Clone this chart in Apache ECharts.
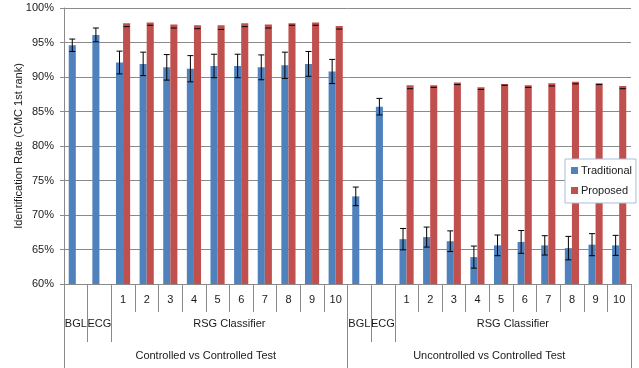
<!DOCTYPE html>
<html>
<head>
<meta charset="utf-8">
<script src="https://cdn.jsdelivr.net/npm/echarts@6/dist/echarts.min.js"></script>
<style>
html,body{margin:0;padding:0;background:#fff;}
#chart{width:639px;height:368px;}
</style>
</head>
<body>
<div id="chart"></div>
<script>
// ---- data ----
const groups = ["Controlled vs Controlled Test", "Uncontrolled vs Controlled Test"];
const methods = ["BGL", "ECG", "RSG Classifier"];
const rsgRuns = ["1", "2", "3", "4", "5", "6", "7", "8", "9", "10"];
const seriesNames = ["Traditional", "Proposed"];
const yTicks = [60, 65, 70, 75, 80, 85, 90, 95, 100];

// Controlled vs Controlled: BGL, ECG, RSG 1..10
const tradControlled = [94.6, 96.1, 92.1, 91.9, 91.4, 91.2, 91.6, 91.6, 91.4, 91.7, 91.9, 90.8];
const tradControlledErr = [0.9, 1.0, 1.65, 1.7, 1.85, 1.9, 1.7, 1.7, 1.8, 1.9, 1.8, 1.75];
const propControlled = [null, null, 97.8, 97.9, 97.6, 97.5, 97.5, 97.8, 97.6, 97.8, 97.9, 97.4];
const propControlledErr = [0, 0, 0.5, 0.4, 0.5, 0.5, 0.6, 0.5, 0.5, 0.3, 0.4, 0.45];

// Uncontrolled vs Controlled: BGL, ECG, RSG 1..10
const tradUncontrolled = [72.7, 85.7, 66.5, 66.8, 66.2, 63.9, 65.6, 66.1, 65.6, 65.2, 65.7, 65.6];
const tradUncontrolledErr = [1.35, 1.2, 1.55, 1.45, 1.5, 1.6, 1.5, 1.65, 1.4, 1.7, 1.6, 1.45];
const propUncontrolled = [null, null, 88.8, 88.8, 89.2, 88.5, 89.0, 88.8, 89.1, 89.3, 89.1, 88.7];
const propUncontrolledErr = [0, 0, 0.5, 0.3, 0.3, 0.3, 0.2, 0.3, 0.4, 0.3, 0.2, 0.4];

// ---- build structure ----
const perGroupLabels = ["", ""].concat(rsgRuns);          // level-1 labels
const methodSpans = [1, 1, rsgRuns.length];               // categories per method
const catLabels = [];
groups.forEach(() => perGroupLabels.forEach(l => catLabels.push(l)));
const nCat = catLabels.length;
const perGroup = perGroupLabels.length;

const trad = tradControlled.concat(tradUncontrolled);
const tradErr = tradControlledErr.concat(tradUncontrolledErr);
const prop = propControlled.concat(propUncontrolled);
const propErr = propControlledErr.concat(propUncontrolledErr);

// level-2 (method) boundaries and label positions
const lvl2Ticks = [0], lvl2LabelPos = [], lvl2LabelText = {};
groups.forEach((g, gi) => {
  let start = gi * perGroup;
  methods.forEach((m, mi) => {
    const end = start + methodSpans[mi];
    const mid = (start + end) / 2;
    lvl2LabelPos.push(mid);
    lvl2LabelText[mid.toFixed(2)] = m;
    lvl2Ticks.push(end);
    start = end;
  });
});
// level-3 (group) boundaries and label positions
const lvl3Ticks = [0], lvl3LabelPos = [], lvl3LabelText = {};
groups.forEach((g, gi) => {
  const mid = gi * perGroup + perGroup / 2;
  lvl3LabelPos.push(mid);
  lvl3LabelText[mid.toFixed(2)] = g;
  lvl3Ticks.push((gi + 1) * perGroup);
});

const errData = (vals, errs) => vals.map((v, i) => v == null ? null : [i, v - errs[i], v + errs[i]]);

function errorRenderer(side) {
  return function (params, api) {
    if (api.value(1) == null || isNaN(api.value(1))) return null;
    const idx = api.value(0);
    const lo = api.coord([idx, api.value(1)]);
    const hi = api.coord([idx, api.value(2)]);
    const bw = api.size([1, 0])[0] * 0.3;
    const x = lo[0] + side * bw / 2;
    const cap = 3;
    const style = { stroke: '#000', lineWidth: 1 };
    return {
      type: 'group',
      children: [
        { type: 'line', shape: { x1: x, y1: lo[1], x2: x, y2: hi[1] }, style: style },
        { type: 'line', shape: { x1: x - cap, y1: lo[1], x2: x + cap, y2: lo[1] }, style: style },
        { type: 'line', shape: { x1: x - cap, y1: hi[1], x2: x + cap, y2: hi[1] }, style: style }
      ]
    };
  };
}

const FONT = 'Liberation Sans, Arial, sans-serif';
const TXT = '#1a1a1a';
const GRID = '#8a8a8a';

const chart = echarts.init(document.getElementById('chart'), null, { renderer: 'canvas' });
chart.setOption({
  animation: false,
  backgroundColor: '#fff',
  textStyle: { fontFamily: FONT },
  grid: { left: 64, right: 8, top: 8, bottom: 84, containLabel: false, outerBoundsMode: 'none' },
  legend: {
    data: seriesNames,
    orient: 'vertical',
    left: 565, top: 159,
    padding: [6, 4, 7, 6],
    itemGap: 9,
    itemWidth: 7, itemHeight: 7,
    icon: 'rect',
    borderColor: '#a7bfdc', borderWidth: 1,
    backgroundColor: '#fff',
    textStyle: { fontFamily: FONT, fontSize: 11, color: TXT, padding: [0, 0, 0, -2] }
  },
  xAxis: [
    {
      type: 'category', data: catLabels,
      axisLine: { show: true, lineStyle: { color: GRID } },
      axisTick: { show: true, interval: 0, length: 28, lineStyle: { color: GRID } },
      axisLabel: { interval: 0, margin: 10, fontSize: 11, color: TXT, fontFamily: FONT },
      splitLine: { show: false }
    },
    {
      type: 'value', min: 0, max: nCat, position: 'bottom',
      axisLine: { show: false },
      axisTick: { show: true, customValues: lvl2Ticks, length: 58, lineStyle: { color: GRID } },
      axisLabel: {
        customValues: lvl2LabelPos, margin: 34, fontSize: 11, color: TXT, fontFamily: FONT,
        formatter: v => lvl2LabelText[Number(v).toFixed(2)] || ''
      },
      splitLine: { show: false }
    },
    {
      type: 'value', min: 0, max: nCat, position: 'bottom',
      axisLine: { show: false },
      axisTick: { show: true, customValues: lvl3Ticks, length: 84, lineStyle: { color: GRID } },
      axisLabel: {
        customValues: lvl3LabelPos, margin: 66, fontSize: 11, color: TXT, fontFamily: FONT,
        formatter: v => lvl3LabelText[Number(v).toFixed(2)] || ''
      },
      splitLine: { show: false }
    }
  ],
  yAxis: {
    type: 'value', min: yTicks[0], max: yTicks[yTicks.length - 1], interval: yTicks[1] - yTicks[0],
    name: 'Identification Rate (CMC 1st rank)',
    nameLocation: 'middle', nameGap: 40, nameMoveOverlap: false,
    nameTextStyle: { fontSize: 11, color: TXT, fontFamily: FONT },
    axisLine: { show: true, lineStyle: { color: GRID } },
    axisTick: { show: true, length: 4, lineStyle: { color: GRID } },
    axisLabel: { formatter: '{value}%', fontSize: 11, color: TXT, margin: 10, fontFamily: FONT },
    splitLine: { show: true, lineStyle: { color: GRID, width: 1 } }
  },
  series: [
    {
      name: seriesNames[0], type: 'bar', xAxisIndex: 0, data: trad,
      barWidth: '30%', barGap: '0%',
      itemStyle: { color: '#4f81bd' }
    },
    {
      name: seriesNames[1], type: 'bar', xAxisIndex: 0, data: prop,
      barWidth: '30%', barGap: '0%',
      itemStyle: { color: '#c0504d' }
    },
    {
      type: 'custom', xAxisIndex: 0, z: 5, silent: true,
      renderItem: errorRenderer(-1), data: errData(trad, tradErr)
    },
    {
      type: 'custom', xAxisIndex: 0, z: 5, silent: true,
      renderItem: errorRenderer(1), data: errData(prop, propErr)
    }
  ]
});
</script>
</body>
</html>
